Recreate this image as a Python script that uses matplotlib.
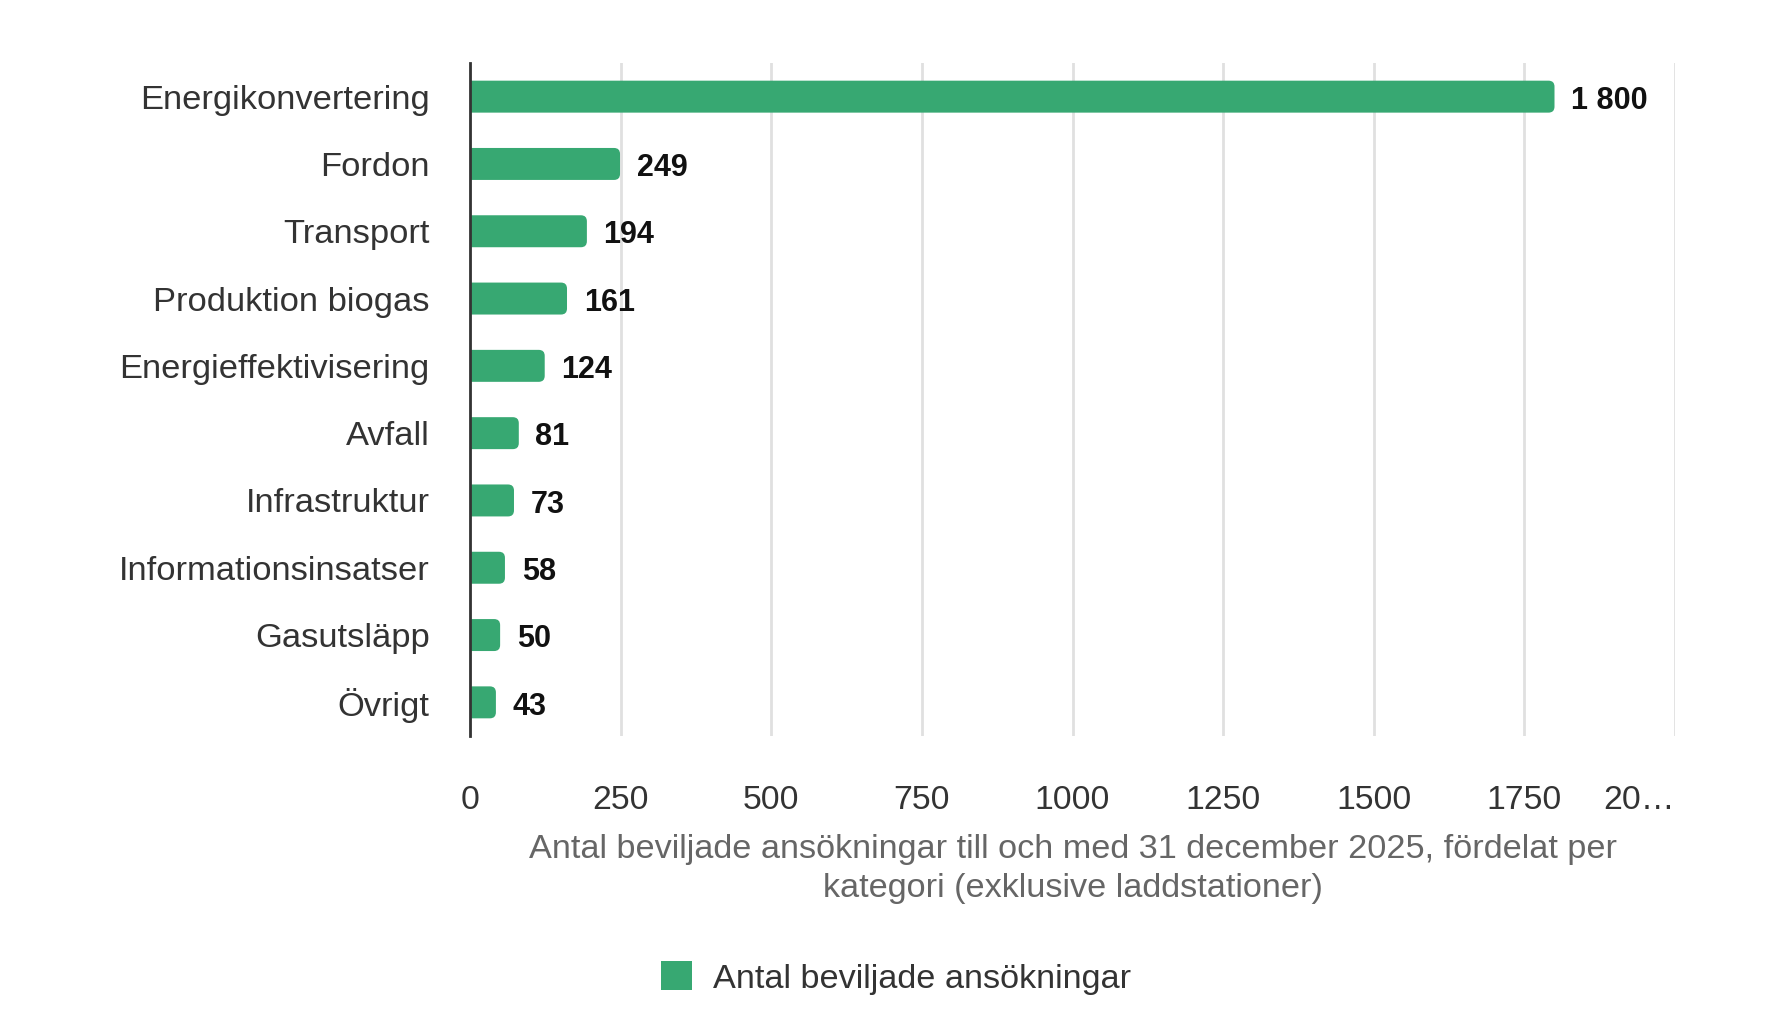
import matplotlib
matplotlib.use("Agg")
import matplotlib.pyplot as plt
from matplotlib.patches import FancyBboxPatch, Patch, BoxStyle

categories = ["Energikonvertering", "Fordon", "Transport", "Produktion biogas",
              "Energieffektivisering", "Avfall", "Infrastruktur",
              "Informationsinsatser", "Gasutsläpp", "Övrigt"]
values = [1800, 249, 194, 161, 124, 81, 73, 58, 50, 43]
xticks = [0, 250, 500, 750, 1000, 1250, 1500, 1750, 2000]
xtick_labels = ["0", "250", "500", "750", "1000", "1250", "1500", "1750", "20…"]
series_name = "Antal beviljade ansökningar"
xlabel = ("Antal beviljade ansökningar till och med 31 december 2025, fördelat per\n"
          "kategori (exklusive laddstationer)")

GREEN = "#37a872"
plt.rcParams["font.family"] = ["Liberation Sans", "DejaVu Sans"]

W, H, DPI = 1792, 1024, 100
fig = plt.figure(figsize=(W / DPI, H / DPI), dpi=DPI)
left, right, top, bottom = 470 / W, 1675 / W, 1 - 63 / H, 1 - 736 / H
ax = fig.add_axes([left, bottom, right - left, top - bottom])

ypos = list(range(len(categories)))
bars = ax.barh(ypos, values, height=0.475, color=GREEN, zorder=3)
ax.set_xlim(0, 2000)
ax.set_ylim(len(categories) - 0.5, -0.5)

# rounded bar ends
ax_w_px = (right - left) * W
ax_h_px = (top - bottom) * H
px_per_x = ax_w_px / 2000
px_per_y = ax_h_px / len(categories)
r_px = 6
rx = r_px / px_per_x
aspect = (r_px / px_per_y) / rx
for rect in bars:
    x0, y0 = rect.get_x(), rect.get_y()
    w, h = rect.get_width(), rect.get_height()
    rect.set_visible(False)
    p = FancyBboxPatch((x0 - rx, y0), w + rx, h,
                       boxstyle=BoxStyle.Round(pad=0, rounding_size=rx),
                       mutation_aspect=aspect, facecolor=GREEN,
                       edgecolor="none", zorder=3, clip_on=True)
    ax.add_patch(p)

texts = ax.bar_label(bars, labels=[f"{v:,.0f}".replace(",", " ") for v in values],
                     padding=12, fontsize=22, fontweight="bold", color="#111111")
for t in texts:
    t.xyann = (12, -3)

ax.set_yticks(ypos)
ax.set_yticklabels(categories, fontsize=24.8, color="#333333")
ax.set_xticks(xticks)
ax.set_xticklabels(xtick_labels, fontsize=24.3, color="#333333")
ax.get_xticklabels()[-1].set_horizontalalignment("right")
ax.tick_params(axis="y", length=0, pad=29)
ax.tick_params(axis="x", length=0, pad=35.5)

ax.grid(axis="x", color="#e0e0e0", linewidth=2, zorder=0)
ax.set_axisbelow(True)
for s in ["top", "right", "bottom"]:
    ax.spines[s].set_visible(False)
ax.spines["left"].set_color("#333333")
ax.spines["left"].set_linewidth(2)
ax.spines["left"].set_zorder(4)

ax.set_xlabel(xlabel, fontsize=24.7, color="#666666", linespacing=1.33)
ax.xaxis.set_label_coords(0.5, -0.145)
ax.xaxis.label.set_va("top")

fig.legend(handles=[Patch(facecolor=GREEN, label=series_name)],
           loc="center", bbox_to_anchor=(0.5, 1 - 978 / H), frameon=False,
           fontsize=24.7, handlelength=0.92, handleheight=0.92,
           handletextpad=0.6, labelcolor="#333333")

fig.savefig("out.png", dpi=DPI, facecolor="white")
